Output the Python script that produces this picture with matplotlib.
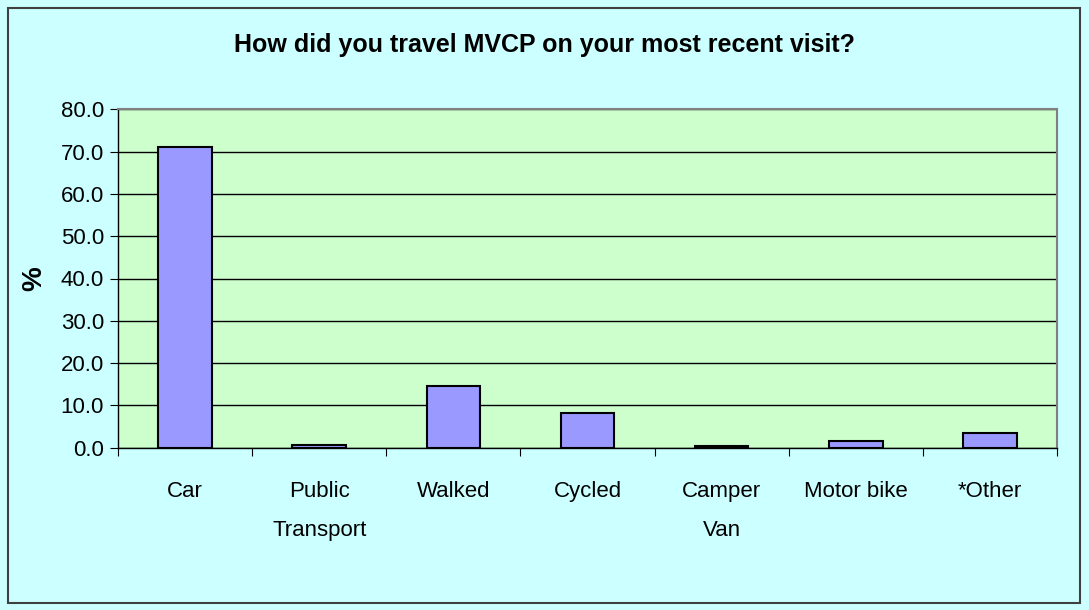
import numpy as np
from matplotlib import pyplot as plt
from matplotlib.patches import Rectangle
from matplotlib.ticker import FormatStrFormatter

# Survey answers (percent)
modes = ["Car", "Public\nTransport", "Walked", "Cycled", "Camper\nVan", "Motor bike", "*Other"]
percent = [71.1, 0.6, 14.7, 8.1, 0.5, 1.7, 3.5]

plt.rcParams['font.family'] = ['Liberation Sans', 'DejaVu Sans']

fig = plt.figure(figsize=(10.89, 6.10), dpi=100)
fig.patch.set_facecolor('#CCFFFF')
fig.patches.append(Rectangle((8/1089, 7/610), 1072/1089, 595/610, transform=fig.transFigure,
                             fill=False, edgecolor='#404040', linewidth=1.5))

ax = fig.add_axes([118/1089, 1-447.7/610, 939/1089, 338.4/610])
ax.set_facecolor('#CCFFCC')

x = np.arange(len(modes))
ax.bar(x, percent, width=0.4, color='#9999FF', edgecolor='black', linewidth=1.5, zorder=3)

ax.set_xlim(-0.5, len(modes)-0.5)
ax.set_ylim(0, 80)
ax.set_yticks(np.arange(0, 81, 10))
ax.yaxis.set_major_formatter(FormatStrFormatter('%.1f'))
ax.grid(axis='y', color='black', linewidth=1, zorder=1)

# ticks at category boundaries, labels at centres
ax.set_xticks(np.arange(-0.5, len(modes), 1.0))
ax.set_xticklabels([])
ax.set_xticks(x, minor=True)
ax.set_xticklabels(modes, minor=True, fontsize=16, linespacing=2.1, va='top')
ax.tick_params(axis='x', which='minor', length=0, pad=24)
ax.tick_params(axis='x', which='major', length=6, direction='out', color='black')
ax.tick_params(axis='y', length=6, direction='out', labelsize=16, pad=4)

for s in ['top', 'right']:
    ax.spines[s].set_color('#808080')
    ax.spines[s].set_linewidth(1.5)
for s in ['left', 'bottom']:
    ax.spines[s].set_color('black')
    ax.spines[s].set_linewidth(1)

ax.set_ylabel('%', fontsize=20, fontweight='bold')
ax.yaxis.set_label_coords(-71/939, 0.5)
fig.text(0.5, 1-45/610, 'How did you travel MVCP on your most recent visit?',
         ha='center', va='center', fontsize=18, fontweight='bold')

fig.savefig('out.png', dpi=100, facecolor=fig.get_facecolor())
